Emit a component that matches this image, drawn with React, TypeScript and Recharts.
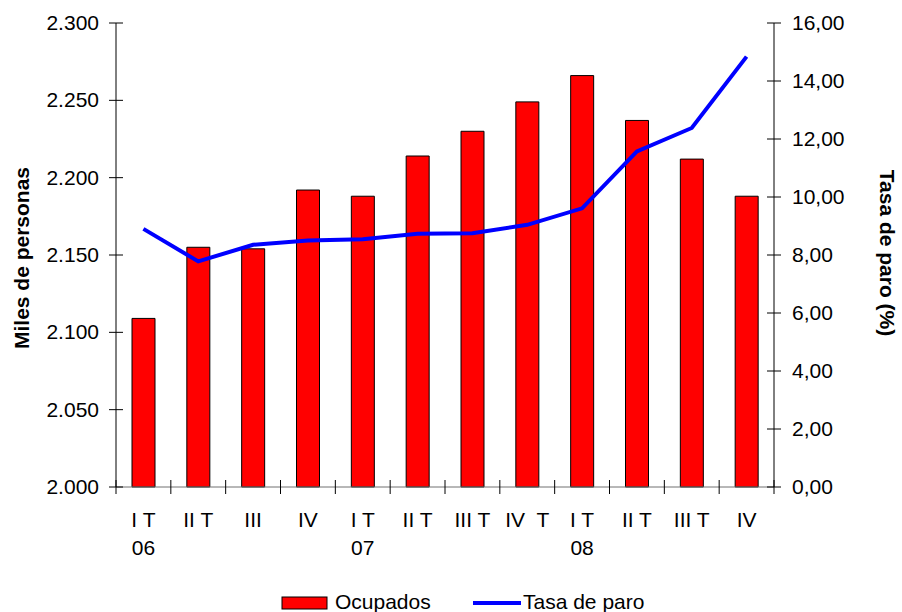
import React from "react";
import { ComposedChart, Bar, Line, XAxis, YAxis } from "recharts";

// trimestres 2006-2008, "|" separa la segunda línea de la etiqueta
const quarters = ["I T|06", "II T", "III", "IV", "I T|07", "II T", "III T", "IV  T", "I T|08", "II T", "III T", "IV"];
const ocupados = [2109, 2155, 2154, 2192, 2188, 2214, 2230, 2249, 2266, 2237, 2212, 2188];
const tasaParo = [8.9, 7.78, 8.35, 8.5, 8.54, 8.73, 8.75, 9.04, 9.61, 11.57, 12.38, 14.84];
const leftTicks = [2000, 2050, 2100, 2150, 2200, 2250, 2300];
const rightTicks = [0, 2, 4, 6, 8, 10, 12, 14, 16];

const W = 902;
const H = 612;
const LEFT_W = 116;
const RIGHT_W = 128;
const TOP = 23;
const XAXIS_H = 125;
const PLOT_W = W - LEFT_W - RIGHT_W;

const FONT = '"Liberation Sans", Arial, sans-serif';
const FS = 21;

const data = quarters.map((q, i) => ({
  q,
  ocupados: ocupados[i],
  paro: tasaParo[i],
}));

function fmtMiles(v: number) {
  const s = String(v);
  return s.slice(0, s.length - 3) + "." + s.slice(-3);
}

function fmtPct(v: number) {
  return v.toFixed(2).replace(".", ",");
}

function LeftTick(props: any) {
  const { x, y, payload } = props;
  return (
    <g>
      <line x1={x - 7} x2={x + 7} y1={y} y2={y} stroke="#000" />
      <text x={x - 17} y={y} dy={7} textAnchor="end" fontFamily={FONT} fontSize={FS} fill="#000">
        {fmtMiles(payload.value)}
      </text>
    </g>
  );
}

function RightTick(props: any) {
  const { x, y, payload } = props;
  return (
    <g>
      <line x1={x - 7} x2={x + 7} y1={y} y2={y} stroke="#000" />
      <text x={x + 18} y={y} dy={7} textAnchor="start" fontFamily={FONT} fontSize={FS} fill="#000">
        {fmtPct(payload.value)}
      </text>
    </g>
  );
}

function QuarterTick(props: any) {
  const { x, y, payload, index } = props;
  const half = PLOT_W / quarters.length / 2;
  const lines = String(payload.value).split("|");
  return (
    <g>
      <line x1={x - half} x2={x - half} y1={y - 7} y2={y + 7} stroke="#000" />
      {index === quarters.length - 1 && (
        <line x1={x + half} x2={x + half} y1={y - 7} y2={y + 7} stroke="#000" />
      )}
      <text
        x={x}
        y={y + 40}
        textAnchor="middle"
        fontFamily={FONT}
        fontSize={FS}
        fill="#000"
        style={{ whiteSpace: "pre" }}
      >
        {lines.map((l, i) => (
          <tspan key={i} x={x} dy={i === 0 ? 0 : 28}>
            {l}
          </tspan>
        ))}
      </text>
    </g>
  );
}

export default function App() {
  return (
    <div style={{ position: "absolute", left: 0, top: 0, width: W, height: H, background: "#fff" }}>
      <ComposedChart
        width={W}
        height={H}
        data={data}
        margin={{ top: TOP, right: 0, bottom: 0, left: 0 }}
      >
        <XAxis
          dataKey="q"
          height={XAXIS_H}
          interval={0}
          tickSize={0}
          tickMargin={0}
          tickLine={false}
          axisLine={{ stroke: "#707070" }}
          tick={<QuarterTick />}
        />
        <YAxis
          yAxisId="left"
          orientation="left"
          width={LEFT_W}
          domain={[2000, 2300]}
          ticks={leftTicks}
          interval={0}
          tickSize={0}
          tickMargin={0}
          tickLine={false}
          axisLine={{ stroke: "#000" }}
          tick={<LeftTick />}
          label={{
            content: () => (
              <text
                transform="translate(29 258) rotate(-90)"
                textAnchor="middle"
                fontFamily={FONT}
                fontSize={FS}
                fontWeight="bold"
                fill="#000"
              >
                Miles de personas
              </text>
            ),
          }}
        />
        <YAxis
          yAxisId="right"
          orientation="right"
          width={RIGHT_W}
          domain={[0, 16]}
          ticks={rightTicks}
          interval={0}
          tickSize={0}
          tickMargin={0}
          tickLine={false}
          axisLine={{ stroke: "#000" }}
          tick={<RightTick />}
          label={{
            content: () => (
              <text
                transform="translate(880 253) rotate(90)"
                textAnchor="middle"
                fontFamily={FONT}
                fontSize={FS}
                fontWeight="bold"
                fill="#000"
              >
                Tasa de paro (%)
              </text>
            ),
          }}
        />
        <Bar
          yAxisId="left"
          dataKey="ocupados"
          name="Ocupados"
          barSize={23}
          fill="#FF0000"
          stroke="#000"
          strokeWidth={1}
          isAnimationActive={false}
        />
        <Line
          yAxisId="right"
          dataKey="paro"
          name="Tasa de paro"
          type="linear"
          stroke="#0000FF"
          strokeWidth={4}
          dot={false}
          activeDot={false}
          isAnimationActive={false}
        />
      </ComposedChart>
      <svg
        width={W}
        height={30}
        style={{ position: "absolute", left: 0, top: 584 }}
        fontFamily={FONT}
        fontSize={FS}
      >
        <rect x={282} y={13} width={45} height={12} fill="#FF0000" stroke="#000" strokeWidth={1} />
        <text x={335} y={25} fill="#000">Ocupados</text>
        <line x1={473} x2={521} y1={19} y2={19} stroke="#0000FF" strokeWidth={4} />
        <text x={523} y={25} fill="#000">Tasa de paro</text>
      </svg>
    </div>
  );
}
